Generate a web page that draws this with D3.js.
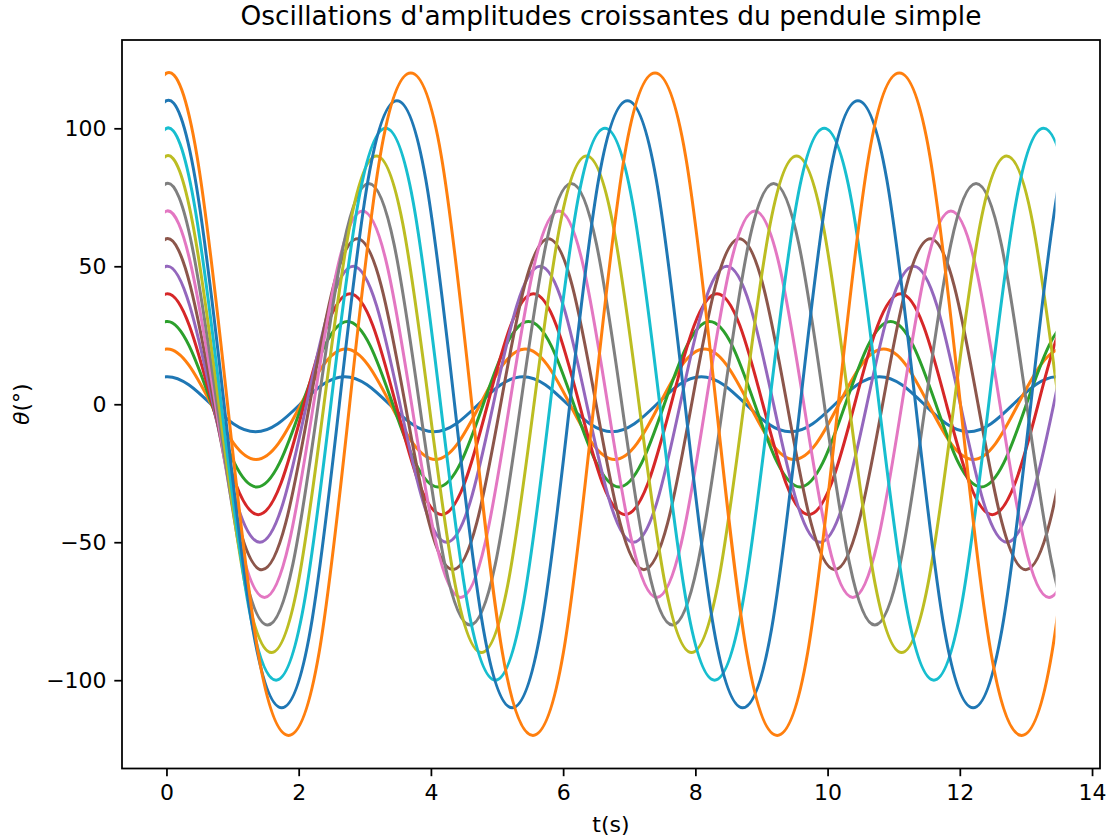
<!DOCTYPE html>
<html>
<head>
<meta charset="utf-8">
<script src="https://cdn.jsdelivr.net/npm/d3@7"></script>
<style>
  body { margin: 0; background: #fff; }
  text { font-family: "DejaVu Sans", sans-serif; fill: #000; }
</style>
</head>
<body>
<div id="pendule"></div>
<script>
// amplitudes of the 12 curves (degrees)
const amplitudes = [10, 20, 30, 40, 50, 60, 70, 80, 90, 100, 110, 120];
// last instant of the simulation (s)
const tEnd = 13.448;

// key instants read on each curve (extrema, zero crossings and points in between), s
const t_10 = [-0.337,0,0.337,0.674,1.011,1.348,1.685,2.022,2.359,2.697,3.034,3.371,3.708,4.045,4.382,4.719,5.056,5.393,5.730,6.067,6.404,6.741,7.078,7.416,7.753,8.090,8.427,8.764,9.101,9.438,9.775,10.112,10.449,10.786,11.123,11.460,11.797,12.135,12.472,12.809,13.146,13.483,13.820];
const t_20 = [-0.339,0,0.339,0.678,1.017,1.356,1.695,2.034,2.373,2.712,3.051,3.390,3.729,4.068,4.407,4.746,5.085,5.424,5.763,6.102,6.441,6.780,7.119,7.458,7.797,8.136,8.475,8.814,9.153,9.492,9.831,10.170,10.509,10.848,11.187,11.526,11.865,12.204,12.543,12.882,13.221,13.560,13.899];
const t_30 = [-0.342,0,0.342,0.685,1.027,1.369,1.711,2.054,2.396,2.738,3.081,3.423,3.765,4.107,4.450,4.792,5.134,5.477,5.819,6.161,6.503,6.846,7.188,7.530,7.873,8.215,8.557,8.899,9.242,9.584,9.926,10.269,10.611,10.953,11.295,11.638,11.980,12.322,12.665,13.007,13.349,13.691,14.033];
const t_40 = [-0.347,0,0.347,0.694,1.041,1.388,1.735,2.082,2.429,2.776,3.123,3.470,3.817,4.164,4.511,4.858,5.205,5.552,5.899,6.246,6.592,6.939,7.286,7.633,7.980,8.327,8.674,9.021,9.368,9.715,10.062,10.409,10.756,11.103,11.450,11.797,12.144,12.491,12.838,13.185,13.532,13.879];
const t_50 = [-0.353,0,0.353,0.706,1.060,1.413,1.766,2.119,2.472,2.825,3.179,3.532,3.885,4.238,4.591,4.944,5.298,5.651,6.004,6.357,6.710,7.064,7.417,7.770,8.123,8.476,8.829,9.183,9.536,9.889,10.242,10.595,10.949,11.302,11.655,12.008,12.361,12.714,13.068,13.421,13.774,14.127];
const t_60 = [-0.361,0,0.361,0.722,1.083,1.444,1.805,2.166,2.527,2.888,3.249,3.611,3.972,4.333,4.694,5.055,5.416,5.777,6.138,6.499,6.860,7.221,7.582,7.943,8.304,8.665,9.026,9.387,9.748,10.109,10.470,10.832,11.193,11.554,11.915,12.276,12.637,12.998,13.359,13.720,14.081];
const t_70 = [-0.371,0,0.371,0.742,1.112,1.483,1.854,2.225,2.596,2.966,3.337,3.708,4.079,4.450,4.820,5.191,5.562,5.933,6.303,6.674,7.045,7.416,7.787,8.157,8.528,8.899,9.270,9.641,10.011,10.382,10.753,11.124,11.495,11.865,12.236,12.607,12.978,13.349,13.719,14.090];
const t_80 = [-0.383,0,0.383,0.765,1.148,1.531,1.913,2.296,2.679,3.061,3.444,3.827,4.210,4.592,4.975,5.358,5.740,6.123,6.506,6.888,7.271,7.654,8.036,8.419,8.802,9.184,9.567,9.950,10.333,10.715,11.098,11.481,11.863,12.246,12.629,13.011,13.394,13.777,14.159];
const t_90 = [-0.397,0,0.397,0.794,1.191,1.588,1.986,2.383,2.780,3.177,3.574,3.971,4.368,4.765,5.162,5.559,5.957,6.354,6.751,7.148,7.545,7.942,8.339,8.736,9.133,9.530,9.928,10.325,10.722,11.119,11.516,11.913,12.310,12.707,13.104,13.501,13.899];
const t_100 = [-0.415,0,0.415,0.829,1.244,1.658,2.073,2.487,2.902,3.316,3.731,4.146,4.560,4.975,5.389,5.804,6.218,6.633,7.047,7.462,7.877,8.291,8.706,9.120,9.535,9.949,10.364,10.778,11.193,11.608,12.022,12.437,12.851,13.266,13.680,14.095];
const t_110 = [-0.436,0,0.436,0.872,1.307,1.743,2.179,2.615,3.051,3.486,3.922,4.358,4.794,5.229,5.665,6.101,6.537,6.973,7.408,7.844,8.280,8.716,9.152,9.587,10.023,10.459,10.895,11.331,11.766,12.202,12.638,13.074,13.510,13.945];
const t_120 = [-0.462,0,0.462,0.924,1.386,1.848,2.309,2.771,3.233,3.695,4.157,4.619,5.081,5.543,6.004,6.466,6.928,7.390,7.852,8.314,8.776,9.238,9.699,10.161,10.623,11.085,11.547,12.009,12.471,12.933,13.394,13.856,14.318];

// angle at each of those instants (degrees)
const theta_10 = [7.07,10,7.07,0,-7.07,-10,-7.07,0, 7.07,10,7.07,0,-7.07,-10,-7.07,0, 7.07,10,7.07,0,-7.07,-10,-7.07,0, 7.07,10,7.07,0,-7.07,-10,-7.07,0, 7.07,10,7.07,0,-7.07,-10,-7.07,0, 7.07,10,7.07];
const theta_20 = [14.16,20,14.16,0,-14.16,-20,-14.16,0, 14.16,20,14.16,0,-14.16,-20,-14.16,0, 14.16,20,14.16,0,-14.16,-20,-14.16,0, 14.16,20,14.16,0,-14.16,-20,-14.16,0, 14.16,20,14.16,0,-14.16,-20,-14.16,0, 14.16,20,14.16];
const theta_30 = [21.27,30,21.27,0,-21.27,-30,-21.27,0, 21.27,30,21.27,0,-21.27,-30,-21.27,0, 21.27,30,21.27,0,-21.27,-30,-21.27,0, 21.27,30,21.27,0,-21.27,-30,-21.27,0, 21.27,30,21.27,0,-21.27,-30,-21.27,0, 21.27,30,21.27];
const theta_40 = [28.43,40,28.43,0,-28.43,-40,-28.43,0, 28.43,40,28.43,0,-28.43,-40,-28.43,0, 28.43,40,28.43,0,-28.43,-40,-28.43,0, 28.43,40,28.43,0,-28.43,-40,-28.43,0, 28.43,40,28.43,0,-28.43,-40,-28.43,0, 28.43,40];
const theta_50 = [35.65,50,35.65,0,-35.65,-50,-35.65,0, 35.65,50,35.65,0,-35.65,-50,-35.65,0, 35.65,50,35.65,0,-35.65,-50,-35.65,0, 35.65,50,35.65,0,-35.65,-50,-35.65,0, 35.65,50,35.65,0,-35.65,-50,-35.65,0, 35.65,50];
const theta_60 = [42.94,60,42.94,0,-42.94,-60,-42.94,0, 42.94,60,42.94,0,-42.94,-60,-42.94,0, 42.94,60,42.94,0,-42.94,-60,-42.94,0, 42.94,60,42.94,0,-42.94,-60,-42.94,0, 42.94,60,42.94,0,-42.94,-60,-42.94,0, 42.94];
const theta_70 = [50.34,70,50.34,0,-50.34,-70,-50.34,0, 50.34,70,50.34,0,-50.34,-70,-50.34,0, 50.34,70,50.34,0,-50.34,-70,-50.34,0, 50.34,70,50.34,0,-50.34,-70,-50.34,0, 50.34,70,50.34,0,-50.34,-70,-50.34,0];
const theta_80 = [57.85,80,57.85,0,-57.85,-80,-57.85,0, 57.85,80,57.85,0,-57.85,-80,-57.85,0, 57.85,80,57.85,0,-57.85,-80,-57.85,0, 57.85,80,57.85,0,-57.85,-80,-57.85,0, 57.85,80,57.85,0,-57.85,-80,-57.85];
const theta_90 = [65.53,90,65.53,0,-65.53,-90,-65.53,0, 65.53,90,65.53,0,-65.53,-90,-65.53,0, 65.53,90,65.53,0,-65.53,-90,-65.53,0, 65.53,90,65.53,0,-65.53,-90,-65.53,0, 65.53,90,65.53,0,-65.53];
const theta_100 = [73.41,100,73.41,0,-73.41,-100,-73.41,0, 73.41,100,73.41,0,-73.41,-100,-73.41,0, 73.41,100,73.41,0,-73.41,-100,-73.41,0, 73.41,100,73.41,0,-73.41,-100,-73.41,0, 73.41,100,73.41,0];
const theta_110 = [81.54,110,81.54,0,-81.54,-110,-81.54,0, 81.54,110,81.54,0,-81.54,-110,-81.54,0, 81.54,110,81.54,0,-81.54,-110,-81.54,0, 81.54,110,81.54,0,-81.54,-110,-81.54,0, 81.54,110];
const theta_120 = [90,120,90,0,-90,-120,-90,0, 90,120,90,0,-90,-120,-90,0, 90,120,90,0,-90,-120,-90,0, 90,120,90,0,-90,-120,-90,0, 90];

const xTicks = [0, 2, 4, 6, 8, 10, 12, 14];
const yTicks = [-100, -50, 0, 50, 100];

// matplotlib default colour cycle
const colors = ['#1f77b4','#ff7f0e','#2ca02c','#d62728','#9467bd','#8c564b','#e377c2','#7f7f7f','#bcbd22','#17becf'];

const allTimes = [t_10, t_20, t_30, t_40, t_50, t_60, t_70, t_80, t_90, t_100, t_110, t_120];
const allThetas = [theta_10, theta_20, theta_30, theta_40, theta_50, theta_60, theta_70, theta_80, theta_90, theta_100, theta_110, theta_120];

const width = 1107, height = 839;
const box = {left: 122, right: 1100, top: 40, bottom: 768.5};
const pt = 2.2; // px per point

let svg = d3.select('#pendule')
    .append('svg')
        .attr('width', width)
        .attr('height', height)
        .style('display', 'block');

svg.append('rect').attr('width', width).attr('height', height).attr('fill', '#fff');

// 5% margins like matplotlib
const xPad = 0.05 * tEnd;
const x = d3.scaleLinear()
    .domain([-xPad, tEnd + xPad])
    .range([box.left, box.right]);
const yMax = d3.max(amplitudes) * 1.1;
const y = d3.scaleLinear()
    .domain([-yMax, yMax])
    .range([box.bottom, box.top]);

// curves are only drawn between t = 0 and t = tEnd
svg.append('defs').append('clipPath')
    .attr('id', 'clip')
  .append('rect')
    .attr('x', x(0) - 1.5)
    .attr('y', box.top)
    .attr('width', x(tEnd) - x(0) + 1.5)
    .attr('height', box.bottom - box.top);

const line = d3.line()
    .x(d => x(d[0]))
    .y(d => y(d[1]))
    .curve(d3.curveNatural);

svg.append('g')
    .attr('clip-path', 'url(#clip)')
  .selectAll('path')
  .data(amplitudes.map((a, i) => d3.zip(allTimes[i], allThetas[i])))
  .join('path')
    .attr('d', line)
    .attr('fill', 'none')
    .attr('stroke', (d, i) => colors[i % colors.length])
    .attr('stroke-width', 3)
    .attr('stroke-linejoin', 'round');

// axes
let xAxisG = svg.append('g')
    .attr('transform', `translate(0,${box.bottom})`)
    .call(d3.axisBottom(x).tickValues(xTicks).tickSize(3.5 * pt).tickPadding(3.5 * pt).tickSizeOuter(0));
let yAxisG = svg.append('g')
    .attr('transform', `translate(${box.left},0)`)
    .call(d3.axisLeft(y).tickValues(yTicks).tickSize(3.5 * pt).tickPadding(3.5 * pt).tickSizeOuter(0)
        .tickFormat(d => d < 0 ? '\u2212' + Math.abs(d) : d));

[xAxisG, yAxisG].forEach(g => {
    g.select('.domain').remove();
    g.attr('font-size', 10 * pt).attr('font-family', '"DejaVu Sans", sans-serif');
    g.selectAll('line').attr('stroke', '#000').attr('stroke-width', 0.8 * pt);
    g.selectAll('text').attr('fill', '#000');
});

// frame (spines)
svg.append('rect')
    .attr('x', box.left)
    .attr('y', box.top)
    .attr('width', box.right - box.left)
    .attr('height', box.bottom - box.top)
    .attr('fill', 'none')
    .attr('stroke', '#000')
    .attr('stroke-width', 0.8 * pt);

// texts
const cx = (box.left + box.right) / 2;
svg.append('text')
    .attr('x', cx)
    .attr('y', 25)
    .attr('text-anchor', 'middle')
    .attr('font-size', 12 * pt)
    .text("Oscillations d'amplitudes croissantes du pendule simple");

svg.append('text')
    .attr('x', cx)
    .attr('y', 832)
    .attr('text-anchor', 'middle')
    .attr('font-size', 10 * pt)
    .text('t(s)');

let yl = svg.append('text')
    .attr('transform', `translate(29,${(box.top + box.bottom) / 2}) rotate(-90)`)
    .attr('text-anchor', 'middle')
    .attr('font-size', 10 * pt);
yl.append('tspan').attr('font-style', 'italic').text('\u03b8');
yl.append('tspan').text('(\u00b0)');
</script>
</body>
</html>
